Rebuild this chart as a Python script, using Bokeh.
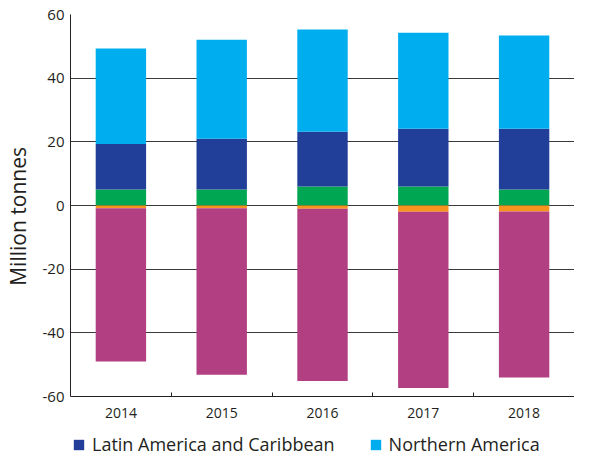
from bokeh.plotting import figure
from bokeh.layouts import column
from bokeh.models import Range1d, FixedTicker, Legend, LegendItem, ColumnDataSource
from bokeh.embed import file_html
from bokeh.resources import INLINE

years = ["2014", "2015", "2016", "2017", "2018"]
oceania = [5.0, 5.0, 6.0, 6.0, 5.0]
latin_america = [14.3, 16.0, 17.2, 18.1, 19.1]
northern_america = [30.0, 31.1, 32.1, 30.2, 29.3]
europe = [-0.9, -0.9, -1.0, -2.0, -1.9]
asia = [-48.1, -52.3, -54.1, -55.3, -52.1]
y_ticks = [-60, -40, -20, 0, 20, 40, 60]
y_tick_labels = ["-60", "-40", "-20", "0", "20", "40", "60"]
legend_names = ["Latin America and Caribbean", "Northern America"]
legend_colors = ["#213F99", "#00AEEF"]

FONT = "Open Sans"
TXT = "#231F20"

xpos = [i + 0.5 for i in range(len(years))]
src = ColumnDataSource(dict(x=xpos, oceania=oceania, latin_america=latin_america,
                            northern_america=northern_america, europe=europe, asia=asia))

p = figure(frame_width=504, frame_height=382, output_backend="svg", toolbar_location=None,
           x_range=Range1d(0, len(years)), y_range=Range1d(-60, 60),
           min_border_left=70, min_border_right=0, min_border_top=14, min_border_bottom=24)
p.outline_line_color = None
p.background_fill_color = "white"

pos = p.vbar_stack(["oceania", "latin_america", "northern_america"], x="x", width=0.5,
                   source=src, color=["#00A651", "#213F99", "#00AEEF"], line_width=0)
neg = p.vbar_stack(["europe", "asia"], x="x", width=0.5,
                   source=src, color=["#F7941D", "#B23F82"], line_width=0)

# axes
p.xaxis.ticker = FixedTicker(ticks=xpos, minor_ticks=[i for i in range(1, len(years))])
p.xaxis.major_label_overrides = {x: y for x, y in zip(xpos, years)}
p.xaxis.major_tick_line_color = None
p.xaxis.minor_tick_in = 4
p.xaxis.minor_tick_out = 0
p.xaxis.minor_tick_line_color = "#222222"
p.xaxis.axis_line_color = "#222222"
p.xaxis.major_label_text_font = FONT
p.xaxis.major_label_text_font_size = "14px"
p.xaxis.major_label_text_color = TXT
p.xaxis.major_label_standoff = 5

p.yaxis.ticker = FixedTicker(ticks=y_ticks)
p.yaxis.major_label_overrides = {t: s for t, s in zip(y_ticks, y_tick_labels)}
p.yaxis.major_tick_in = 0
p.yaxis.major_tick_out = 0
p.yaxis.minor_tick_line_color = None
p.yaxis.axis_line_color = "#222222"
p.yaxis.major_label_text_font = FONT
p.yaxis.major_label_text_font_size = "15px"
p.yaxis.major_label_text_color = TXT
p.yaxis.major_label_standoff = 6
p.yaxis.axis_label = "Million tonnes\u00a0\u00a0\u00a0\u00a0"
p.yaxis.axis_label_text_font = FONT
p.yaxis.axis_label_text_font_size = "21px"
p.yaxis.axis_label_text_font_style = "normal"
p.yaxis.axis_label_text_color = TXT
p.yaxis.axis_label_standoff = 8

p.xgrid.grid_line_color = None
p.ygrid.ticker = FixedTicker(ticks=y_ticks)
p.ygrid.grid_line_color = "#3a3a3a"
p.ygrid.grid_line_width = 1

# legend strip as a separate, axis-less figure
pl = figure(width=574, height=36, output_backend="svg", toolbar_location=None,
            x_axis_type=None, y_axis_type=None,
            x_range=Range1d(0, 1), y_range=Range1d(0, 1),
            min_border_left=0, min_border_right=0, min_border_top=0, min_border_bottom=0)
pl.outline_line_color = None
pl.grid.grid_line_color = None
items = []
for name, col in zip(legend_names, legend_colors):
    # zero-height placeholder glyph: only used to give the legend entry its swatch colour
    r = pl.vbar(x=[0.5], top=[0], bottom=[0], width=0.0, color=col, line_width=0)
    items.append(LegendItem(label=name, renderers=[r]))
legend = Legend(items=items, location=(2, 0), orientation="horizontal")
legend.label_text_font = FONT
legend.label_text_font_size = "18px"
legend.label_text_color = TXT
legend.glyph_width = 13
legend.glyph_height = 13
legend.label_standoff = 7
legend.spacing = 34
legend.padding = 0
legend.margin = 0
legend.border_line_color = None
legend.background_fill_alpha = 0
pl.add_layout(legend, "center")

layout = column(p, pl, spacing=0)
open("out.html", "w").write(file_html(layout, INLINE))
